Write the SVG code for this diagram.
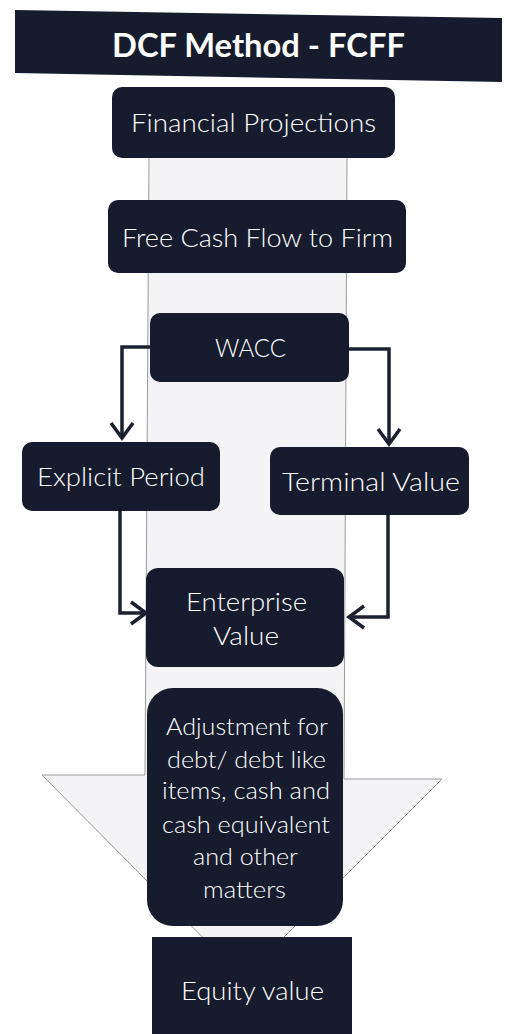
<svg xmlns="http://www.w3.org/2000/svg" width="507" height="1034" viewBox="0 0 507 1034">
<style>
.node{fill:#161b2d}
.t{font-family:Lato,"Open Sans","Liberation Sans",sans-serif;fill:#ffffff;text-anchor:middle;font-size:25px;font-weight:300}
.ts{font-size:23px}
.title{font-family:Lato,"Open Sans","Liberation Sans",sans-serif;fill:#ffffff;text-anchor:middle;font-size:33px;font-weight:bold}
.conn{fill:none;stroke:#1c2132;stroke-width:3.5;stroke-linejoin:miter}
</style>
<defs>
<marker id="chev" viewBox="0 0 24 26" refX="20" refY="13" markerWidth="24" markerHeight="26" markerUnits="userSpaceOnUse" orient="auto">
<path d="M5,2 L20,13 L5,24" fill="none" stroke="#1c2132" stroke-width="3.5"/>
</marker>
</defs>
<rect width="507" height="1034" fill="#ffffff"/>
<g id="backdrop">
<polygon points="149,155 347,155 344,779 442,779 243,978 42,775 145,775" fill="#f4f4f6" stroke="#9a9a9a" stroke-width="1"/>
</g>
<g id="title">
<polygon points="15,10 502,18 502,82 15,73" class="node"/>
<text class="title" x="258.5" y="57" textLength="293" lengthAdjust="spacingAndGlyphs">DCF Method - FCFF</text>
</g>
<g id="connectors">
<path class="conn" d="M150,347 H122 V438" marker-end="url(#chev)"/>
<path class="conn" d="M349,349 H389 V444" marker-end="url(#chev)"/>
<path class="conn" d="M120,511 V613 H146" marker-end="url(#chev)"/>
<path class="conn" d="M388,515 V617 H349" marker-end="url(#chev)"/>
</g>
<g id="financial-projections">
<rect class="node" x="112" y="87" width="283" height="71" rx="10"/>
<text class="t" x="253.5" y="132" textLength="245" lengthAdjust="spacingAndGlyphs">Financial Projections</text>
</g>
<g id="fcff">
<rect class="node" x="108" y="200" width="298" height="73" rx="10"/>
<text class="t" x="257.5" y="247" textLength="271" lengthAdjust="spacingAndGlyphs">Free Cash Flow to Firm</text>
</g>
<g id="wacc">
<rect class="node" x="150" y="313" width="199" height="69" rx="10"/>
<text class="t" x="250.5" y="357" textLength="71" lengthAdjust="spacingAndGlyphs">WACC</text>
</g>
<g id="explicit-period">
<rect class="node" x="22" y="442" width="198" height="69" rx="10"/>
<text class="t" x="121" y="486" textLength="168" lengthAdjust="spacingAndGlyphs">Explicit Period</text>
</g>
<g id="terminal-value">
<rect class="node" x="270" y="447" width="199" height="68" rx="10"/>
<text class="t" x="371" y="491" textLength="178" lengthAdjust="spacingAndGlyphs">Terminal Value</text>
</g>
<g id="enterprise-value">
<rect class="node" x="146" y="568" width="198" height="99" rx="12"/>
<text class="t" x="246.5" y="611" textLength="121" lengthAdjust="spacingAndGlyphs">Enterprise</text>
<text class="t" x="246" y="645" textLength="66" lengthAdjust="spacingAndGlyphs">Value</text>
</g>
<g id="adjustment">
<rect class="node" x="147" y="688" width="196" height="238" rx="26"/>
<text class="t ts" x="247" y="735" textLength="162" lengthAdjust="spacingAndGlyphs">Adjustment for</text>
<text class="t ts" x="246.5" y="768" textLength="159" lengthAdjust="spacingAndGlyphs">debt/ debt like</text>
<text class="t ts" x="246" y="799" textLength="168" lengthAdjust="spacingAndGlyphs">items, cash and</text>
<text class="t ts" x="246" y="833" textLength="168" lengthAdjust="spacingAndGlyphs">cash equivalent</text>
<text class="t ts" x="245.5" y="865" textLength="105" lengthAdjust="spacingAndGlyphs">and other</text>
<text class="t ts" x="244.5" y="898" textLength="83" lengthAdjust="spacingAndGlyphs">matters</text>
</g>
<g id="equity-value">
<rect class="node" x="152" y="937" width="200" height="97"/>
<text class="t" x="252.5" y="1000" textLength="143" lengthAdjust="spacingAndGlyphs">Equity value</text>
</g>
</svg>
